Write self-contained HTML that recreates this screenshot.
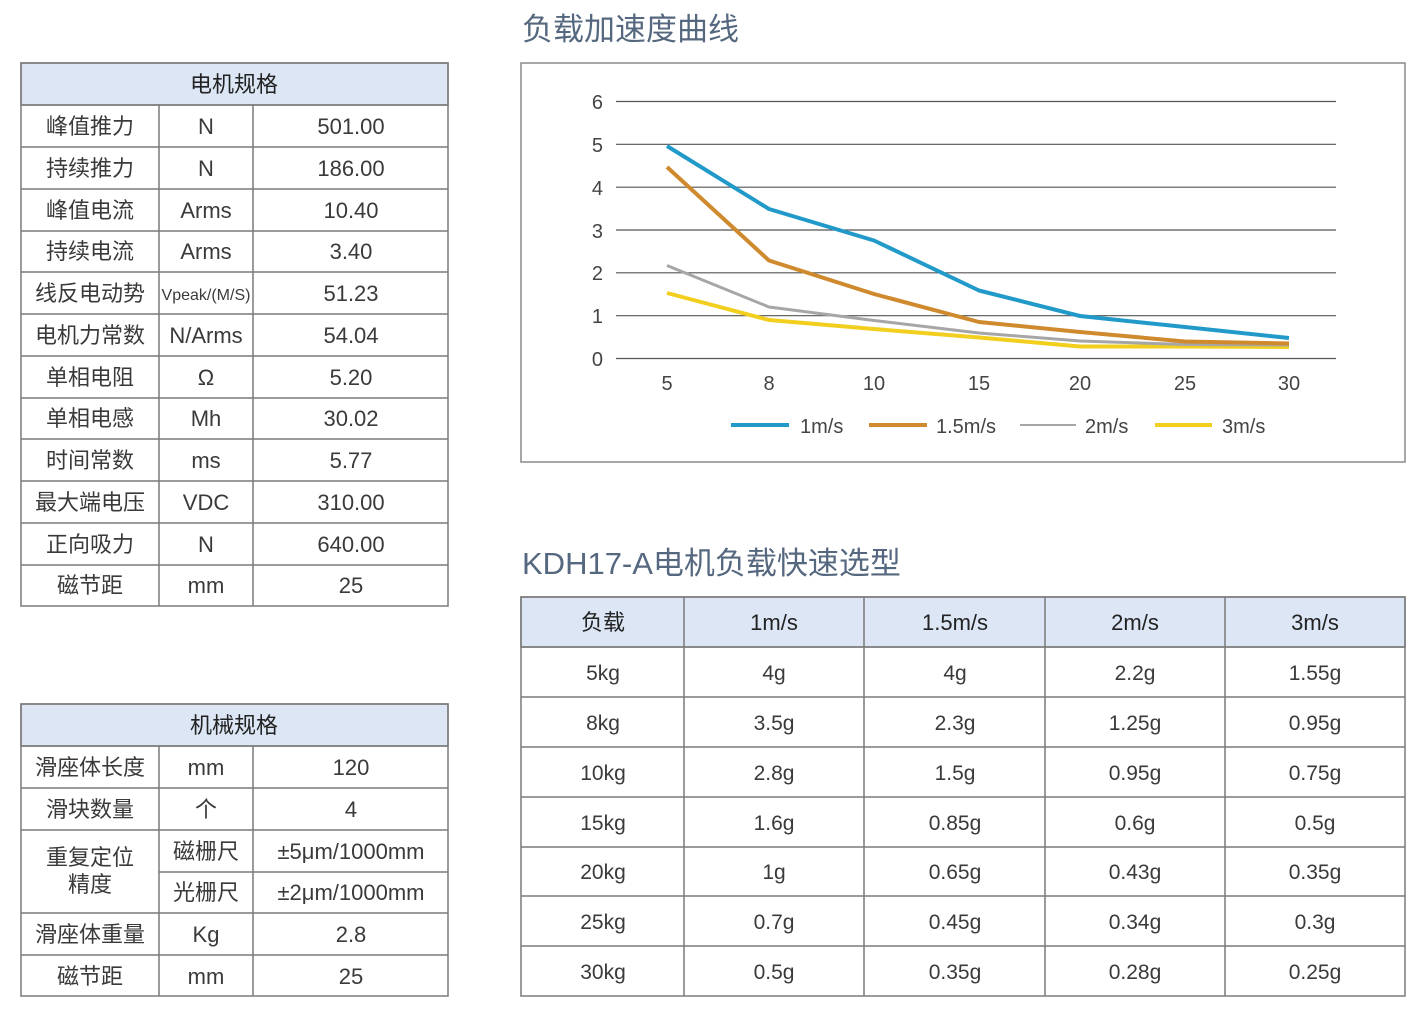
<!DOCTYPE html>
<html><head><meta charset="utf-8"><style>
html,body{margin:0;padding:0;background:#fff;}
svg{display:block;}
text{font-family:"Liberation Sans","Noto Sans CJK SC",sans-serif;}
</style></head><body>
<svg width="1423" height="1022" viewBox="0 0 1423 1022" xmlns="http://www.w3.org/2000/svg">
<rect width="1423" height="1022" fill="#fff"/>
<!-- Titles -->
<text x="522" y="40" font-size="31" fill="#55687f">负载加速度曲线</text>
<text x="522" y="574" font-size="31" fill="#55687f">KDH17-A电机负载快速选型</text>

<!-- Table 1 -->
<g stroke="#7a7a7a" stroke-width="1.5" fill="none">
<rect x="21" y="63" width="427" height="42" fill="#dce6f4"/>
<rect x="21" y="63" width="427" height="543"/>
<path d="M21 105H448M21 147H448M21 189H448M21 231H448M21 272H448M21 314H448M21 356H448M21 398H448M21 439H448M21 481H448M21 523H448M21 565H448M159 105V606M253 105V606"/>
</g>
<g font-size="22" fill="#3a3a3a" text-anchor="middle">
<text x="234" y="92" fill="#222">电机规格</text>
<text x="90" y="134">峰值推力</text><text x="206" y="134">N</text><text x="351" y="134">501.00</text>
<text x="90" y="176">持续推力</text><text x="206" y="176">N</text><text x="351" y="176">186.00</text>
<text x="90" y="218">峰值电流</text><text x="206" y="218">Arms</text><text x="351" y="218">10.40</text>
<text x="90" y="259">持续电流</text><text x="206" y="259">Arms</text><text x="351" y="259">3.40</text>
<text x="90" y="301">线反电动势</text><text x="206" y="300" font-size="16">Vpeak/(M/S)</text><text x="351" y="301">51.23</text>
<text x="90" y="343">电机力常数</text><text x="206" y="343">N/Arms</text><text x="351" y="343">54.04</text>
<text x="90" y="385">单相电阻</text><text x="206" y="385">Ω</text><text x="351" y="385">5.20</text>
<text x="90" y="426">单相电感</text><text x="206" y="426">Mh</text><text x="351" y="426">30.02</text>
<text x="90" y="468">时间常数</text><text x="206" y="468">ms</text><text x="351" y="468">5.77</text>
<text x="90" y="510">最大端电压</text><text x="206" y="510">VDC</text><text x="351" y="510">310.00</text>
<text x="90" y="552">正向吸力</text><text x="206" y="552">N</text><text x="351" y="552">640.00</text>
<text x="90" y="593">磁节距</text><text x="206" y="593">mm</text><text x="351" y="593">25</text>
</g>

<!-- Table 2 -->
<g stroke="#7a7a7a" stroke-width="1.5" fill="none">
<rect x="21" y="704" width="427" height="42" fill="#dce6f4"/>
<rect x="21" y="704" width="427" height="292"/>
<path d="M21 746H448M21 788H448M21 830H448M159 872H448M21 913H448M21 955H448M159 746V996M253 746V996"/>
</g>
<g font-size="22" fill="#3a3a3a" text-anchor="middle">
<text x="234" y="733" fill="#222">机械规格</text>
<text x="90" y="775">滑座体长度</text><text x="206" y="775">mm</text><text x="351" y="775">120</text>
<text x="90" y="817">滑块数量</text><text x="206" y="817">个</text><text x="351" y="817">4</text>
<text x="90" y="865">重复定位</text><text x="90" y="892">精度</text>
<text x="206" y="859">磁栅尺</text><text x="351" y="859">±5μm/1000mm</text>
<text x="206" y="900">光栅尺</text><text x="351" y="900">±2μm/1000mm</text>
<text x="90" y="942">滑座体重量</text><text x="206" y="942">Kg</text><text x="351" y="942">2.8</text>
<text x="90" y="984">磁节距</text><text x="206" y="984">mm</text><text x="351" y="984">25</text>
</g>

<!-- Chart -->
<rect x="521" y="63" width="884" height="399" fill="#fff" stroke="#8a8a8a" stroke-width="1.5"/>
<g stroke="#555" stroke-width="1.2">
<path d="M616 101.5H1336M616 144.3H1336M616 187.2H1336M616 230H1336M616 272.8H1336M616 315.7H1336M616 358.5H1336"/>
</g>
<g font-size="20" fill="#444" text-anchor="end">
<text x="603" y="109">6</text><text x="603" y="152">5</text><text x="603" y="195">4</text><text x="603" y="238">3</text><text x="603" y="280">2</text><text x="603" y="323">1</text><text x="603" y="366">0</text>
</g>
<g font-size="20" fill="#444" text-anchor="middle">
<text x="667" y="390">5</text><text x="769" y="390">8</text><text x="874" y="390">10</text><text x="979" y="390">15</text><text x="1080" y="390">20</text><text x="1185" y="390">25</text><text x="1289" y="390">30</text>
</g>
<g fill="none" stroke-linejoin="round">
<polyline stroke="#f2cf1f" stroke-width="4" points="667,293 769,320 874,329 979,337.5 1080,346.5 1185,346.5 1289,347"/>
<polyline stroke="#a6a6a6" stroke-width="3" points="667,265.5 769,307 874,320.5 979,333 1080,341 1185,344.5 1289,345"/>
<polyline stroke="#d08a2e" stroke-width="4" points="667,167 769,260.5 874,294 979,322 1080,332 1185,341.5 1289,343.5"/>
<polyline stroke="#219ac9" stroke-width="4" points="667,146 769,209 874,240.5 979,290.5 1080,316 1185,327 1289,338"/>
</g>
<g font-size="20" fill="#444">
<line x1="731" y1="425" x2="789" y2="425" stroke="#219ac9" stroke-width="4"/><text x="800" y="433">1m/s</text>
<line x1="869" y1="425" x2="927" y2="425" stroke="#d08a2e" stroke-width="4"/><text x="936" y="433">1.5m/s</text>
<line x1="1020" y1="425" x2="1076" y2="425" stroke="#a6a6a6" stroke-width="2"/><text x="1085" y="433">2m/s</text>
<line x1="1155" y1="425" x2="1212" y2="425" stroke="#f2cf1f" stroke-width="4"/><text x="1222" y="433">3m/s</text>
</g>

<!-- Right table -->
<g stroke="#7a7a7a" stroke-width="1.5" fill="none">
<rect x="521" y="597" width="884" height="50" fill="#dce6f4"/>
<rect x="521" y="597" width="884" height="399"/>
<path d="M521 647H1405M521 697H1405M521 747H1405M521 797H1405M521 847H1405M521 896H1405M521 946H1405M684 597V996M864 597V996M1045 597V996M1225 597V996"/>
</g>
<g font-size="22" fill="#222" text-anchor="middle">
<text x="603" y="630">负载</text><text x="774" y="630">1m/s</text><text x="955" y="630">1.5m/s</text><text x="1135" y="630">2m/s</text><text x="1315" y="630">3m/s</text>
</g>
<g font-size="21" fill="#3a3a3a" text-anchor="middle">
<text x="603" y="680">5kg</text><text x="774" y="680">4g</text><text x="955" y="680">4g</text><text x="1135" y="680">2.2g</text><text x="1315" y="680">1.55g</text>
<text x="603" y="730">8kg</text><text x="774" y="730">3.5g</text><text x="955" y="730">2.3g</text><text x="1135" y="730">1.25g</text><text x="1315" y="730">0.95g</text>
<text x="603" y="780">10kg</text><text x="774" y="780">2.8g</text><text x="955" y="780">1.5g</text><text x="1135" y="780">0.95g</text><text x="1315" y="780">0.75g</text>
<text x="603" y="830">15kg</text><text x="774" y="830">1.6g</text><text x="955" y="830">0.85g</text><text x="1135" y="830">0.6g</text><text x="1315" y="830">0.5g</text>
<text x="603" y="879">20kg</text><text x="774" y="879">1g</text><text x="955" y="879">0.65g</text><text x="1135" y="879">0.43g</text><text x="1315" y="879">0.35g</text>
<text x="603" y="929">25kg</text><text x="774" y="929">0.7g</text><text x="955" y="929">0.45g</text><text x="1135" y="929">0.34g</text><text x="1315" y="929">0.3g</text>
<text x="603" y="979">30kg</text><text x="774" y="979">0.5g</text><text x="955" y="979">0.35g</text><text x="1135" y="979">0.28g</text><text x="1315" y="979">0.25g</text>
</g>
</svg>
</body></html>
